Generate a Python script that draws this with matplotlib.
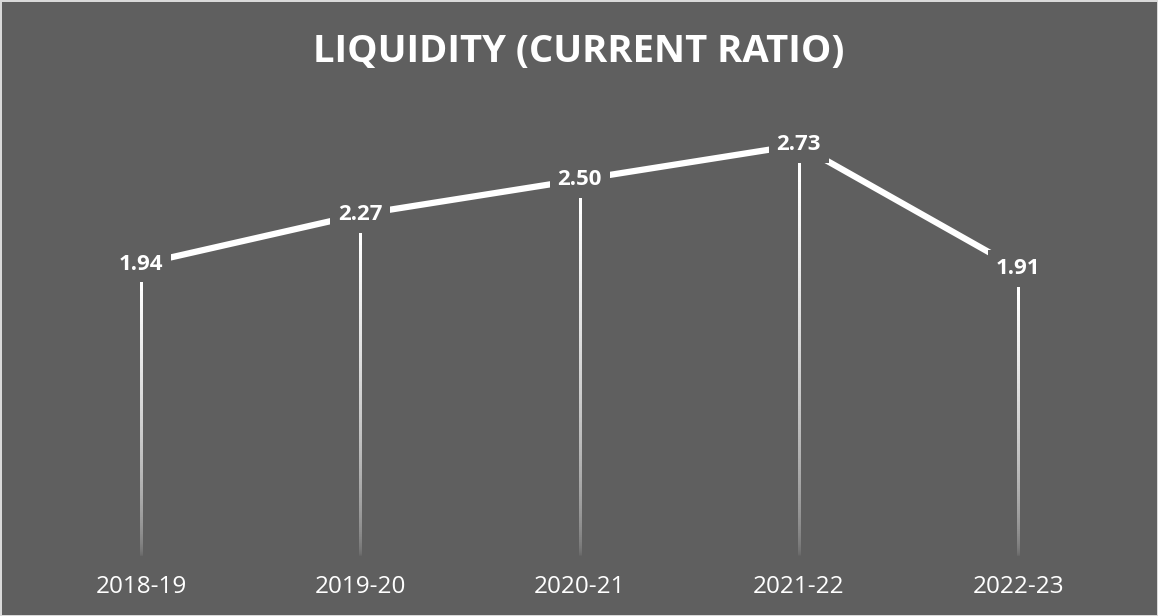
import matplotlib
import matplotlib.pyplot as plt
import numpy as np

matplotlib.use("Agg")

years = ["2018-19", "2019-20", "2020-21", "2021-22", "2022-23"]
current_ratio = [1.94, 2.27, 2.50, 2.73, 1.91]

BG = "#5f5f5f"
FONT = "Open Sans"

fig = plt.figure(figsize=(11.58, 6.16), dpi=100, facecolor=BG)
fig.patch.set_edgecolor("#d9d9d9")
fig.patch.set_linewidth(2)
ax = fig.add_axes([0.027, 0.0958, 0.947, 0.735])
ax.set_facecolor(BG)

x = np.arange(len(years))

# drop lines fading towards the axis (thin gradient images)
half_w = 0.0048
for xi, v in zip(x, current_ratio):
    f = np.linspace(1, 0, 256) ** 0.5
    grad = np.ones((256, 1, 4))
    grad[:, 0, 3] = np.clip(f * 1.05, 0, 1)
    ax.imshow(grad, extent=[xi - half_w, xi + half_w, 0, v], aspect="auto",
              interpolation="bilinear", zorder=2)

ax.plot(x, current_ratio, color="white", lw=4.5, solid_capstyle="butt", zorder=3)

for xi, v in zip(x, current_ratio):
    ax.text(xi, v, f"{v:.2f}", ha="center", va="center", color="white",
            fontsize=16, fontweight="bold", family=FONT, zorder=4,
            bbox=dict(boxstyle="square,pad=0.35", fc=BG, ec="none"))

ax.set_xlim(-0.5, len(years) - 0.5)
ax.set_ylim(0, 3)
ax.set_xticks(x)
ax.set_xticklabels(years, color="white", fontsize=17.5, family=FONT)
ax.tick_params(axis="x", length=0, pad=13)
ax.set_yticks([])
for s in ax.spines.values():
    s.set_visible(False)

fig.text(0.5, 0.915, "LIQUIDITY (CURRENT RATIO)", ha="center", va="center",
         color="white", fontsize=27.5, fontweight="bold", family=FONT)

fig.savefig("out.png", dpi=100, facecolor=BG, edgecolor=fig.patch.get_edgecolor())
